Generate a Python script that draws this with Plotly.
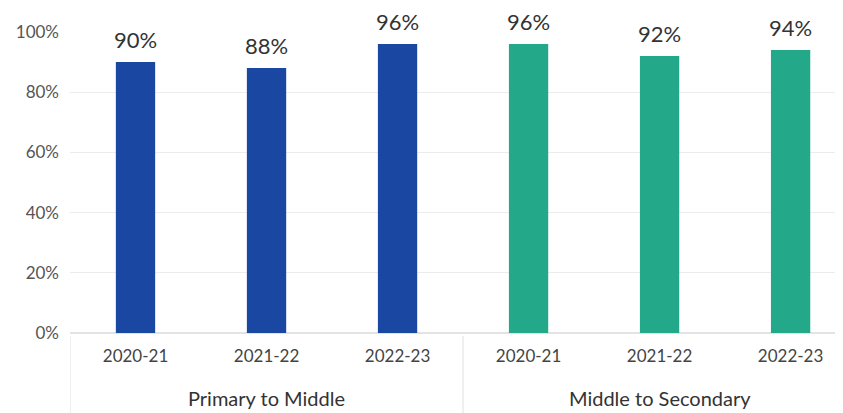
import plotly.graph_objects as go

group_names = ["Primary to Middle", "Middle to Secondary"]
groups = ["Primary to Middle"] * 3 + ["Middle to Secondary"] * 3
years = ["2020-21", "2021-22", "2022-23", "2020-21", "2021-22", "2022-23"]
values = [90, 88, 96, 96, 92, 94]
colors = ["#1a47a2"] * 3 + ["#23a98a"] * 3
y_ticks = [0, 20, 40, 60, 80, 100]
y_tick_labels = ["0%", "20%", "40%", "60%", "80%", "100%"]

positions = list(range(len(values)))

fig = go.Figure()
fig.add_trace(go.Bar(
    x=positions,
    y=values,
    marker=dict(color=colors, line=dict(width=0)),
    width=0.3,
    hoverinfo="skip",
))

for i, v in enumerate(values):
    fig.add_annotation(
        x=i, y=v, xref="x", yref="y",
        text=f"{v}%", showarrow=False,
        yanchor="bottom", yshift=7,
        font=dict(family="Lato, sans-serif", size=22, color="#333333"),
    )

# group labels and dividers
for gi, name in enumerate(group_names):
    idx = [i for i, g in enumerate(groups) if g == name]
    center = sum(idx) / len(idx)
    fig.add_annotation(
        x=center, y=-0.215, xref="x", yref="paper",
        text=name, showarrow=False, yanchor="middle",
        font=dict(family="Lato, sans-serif", size=20, color="#333333"),
    )
    fig.add_shape(
        type="line", xref="x", yref="paper",
        x0=min(idx) - 0.5, x1=min(idx) - 0.5, y0=-0.01, y1=-0.3,
        line=dict(color="#e0e0e0", width=1),
    )

fig.update_layout(
    width=835, height=405,
    margin=dict(l=62, r=0, t=24, b=80),
    paper_bgcolor="white", plot_bgcolor="white",
    showlegend=False,
)
fig.update_xaxes(
    range=[-0.5, 5.40],
    tickvals=positions,
    ticktext=years,
    showgrid=False,
    showline=False,
    zeroline=False,
    ticks="",
    automargin=False,
    ticklabelstandoff=11,
    tickfont=dict(family="Lato, sans-serif", size=17, color="#444444"),
)
fig.update_yaxes(
    range=[0, 100],
    tickvals=y_ticks,
    ticktext=y_tick_labels,
    showgrid=True,
    gridcolor="#ececec",
    gridwidth=1,
    zeroline=True,
    zerolinecolor="#e3e3e3",
    showline=False,
    ticks="",
    automargin=False,
    ticklabelstandoff=10,
    tickfont=dict(family="Lato, sans-serif", size=17, color="#555555"),
)

fig.write_html("out.html")
